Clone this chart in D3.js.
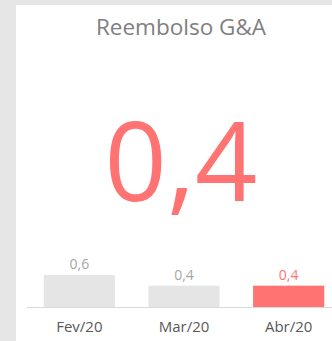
<!DOCTYPE html>
<html>
<head>
<meta charset="utf-8">
<script src="https://cdn.jsdelivr.net/npm/d3@7"></script>
<style>
  html, body { margin: 0; padding: 0; background: #e6e6e6; }
  svg { display: block; }
</style>
</head>
<body>
<svg id="chart" width="332" height="341"></svg>
<script>
// Monthly G&A reimbursement
const months = ["Fev/20", "Mar/20", "Abr/20"];
const values = [0.6, 0.4, 0.4];
const valueLabels = ["0,6", "0,4", "0,4"];
const headline = "0,4";
const title = "Reembolso G&A";

const W = 332, H = 341;
const svg = d3.select("#chart");
const font = "'Open Sans', 'Noto Sans', sans-serif";
const red = "#ff7373";
const grey = "#e5e5e5";

// white card
svg.append("rect").attr("x", 16).attr("y", 5).attr("width", W - 16).attr("height", H - 5).attr("fill", "#ffffff");

svg.append("text")
  .attr("x", 181).attr("y", 35)
  .attr("text-anchor", "middle")
  .attr("font-family", font).attr("font-size", 22.5)
  .attr("fill", "#808080")
  .text(title);

svg.append("text")
  .attr("x", 181).attr("y", 200.5)
  .attr("text-anchor", "middle")
  .attr("font-family", font).attr("font-size", 109)
  .attr("fill", red)
  .text(headline);

// bar chart
const baseY = 307;
const x = d3.scaleBand().domain(months).range([27, 341]).paddingInner(0.32).paddingOuter(0.16);
const y = d3.scaleLinear().domain([0, 0.6]).range([baseY, 275]);

svg.append("line")
  .attr("x1", 27).attr("x2", W)
  .attr("y1", baseY + 0.5).attr("y2", baseY + 0.5)
  .attr("stroke", "#d9d9d9").attr("stroke-width", 1);

const last = months.length - 1;
svg.selectAll("rect.bar").data(months).join("rect")
  .attr("class", "bar")
  .attr("x", d => x(d))
  .attr("width", x.bandwidth())
  .attr("y", (d, i) => y(values[i]))
  .attr("height", (d, i) => baseY - y(values[i]))
  .attr("fill", (d, i) => i === last ? red : grey);

svg.selectAll("text.val").data(months).join("text")
  .attr("class", "val")
  .attr("x", d => x(d) + x.bandwidth() / 2)
  .attr("y", (d, i) => y(values[i]) - 6)
  .attr("text-anchor", "middle")
  .attr("font-family", font).attr("font-size", 14)
  .attr("fill", (d, i) => i === last ? red : "#a6a6a6")
  .text((d, i) => valueLabels[i]);

const xAxis = d3.axisBottom(x).tickSize(0).tickPadding(0);
const gx = svg.append("g").attr("transform", `translate(0,${baseY})`).call(xAxis);
gx.select(".domain").remove();
gx.selectAll("text")
  .attr("dy", null)
  .attr("y", 25)
  .attr("font-family", font).attr("font-size", 15)
  .attr("fill", "#595959");
</script>
</body>
</html>
